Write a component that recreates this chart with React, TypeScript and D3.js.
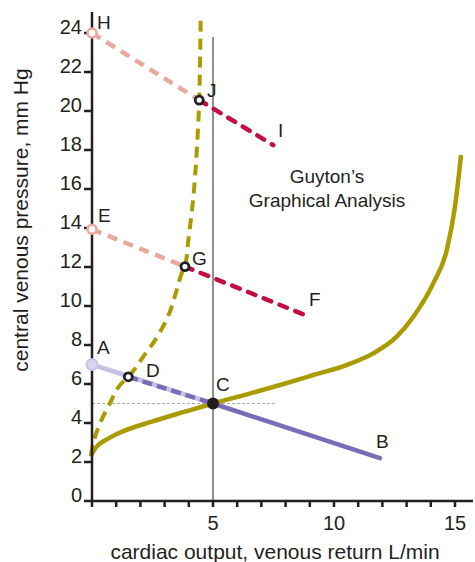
import React from "react";
import * as d3 from "d3";

const yTicks = [0, 2, 4, 6, 8, 10, 12, 14, 16, 18, 20, 22, 24];
const xTicks = d3.range(0, 16);
const xLabels = [5, 10, 15];

// Cardiac output curve (solid olive)
const cardiacOutput: [number, number][] = [
  [-0.05, 2.3], [0.08, 2.6], [0.26, 2.87], [0.6, 3.15], [1.09, 3.47], [2.47, 4.07],
  [3.84, 4.58], [5, 5], [6.4, 5.47], [7.77, 5.95], [9.15, 6.46], [10.52, 6.97],
  [11.62, 7.57], [12.59, 8.43], [13.28, 9.45], [14.1, 11.16],
  [14.66, 12.87], [15.0, 15.1], [15.25, 17.74],
];
// Steep (dashed olive) cardiac curve
const cardiacSteep: [number, number][] = [
  [-0.05, 2.3], [0.05, 2.96], [0.33, 3.98], [0.74, 5.01], [1.16, 5.95], [1.5, 6.37],
  [2.12, 7.4], [2.74, 8.51], [3.22, 9.71], [3.5, 10.82], [3.71, 11.68], [3.84, 12.02],
  [3.98, 13.38], [4.19, 15.6], [4.33, 18], [4.43, 20.56], [4.46, 22.27], [4.49, 24.63],
];

// Venous return points
const pA: [number, number] = [0, 7];
const pD: [number, number] = [1.5, 6.37];
const pC: [number, number] = [5, 5];
const pB: [number, number] = [11.9, 2.2];
const pE: [number, number] = [0, 13.93];
const pG: [number, number] = [3.84, 12.02];
const pF: [number, number] = [8.98, 9.45];
const pH: [number, number] = [0, 24];
const pJ: [number, number] = [4.43, 20.56];
const pI: [number, number] = [7.49, 18.25];

const OLIVE = "#a89c00";
const LAV = "#c6c0e2";
const PURPLE = "#7a6cb8";
const PINK = "#e8a8a0";
const CRIMSON = "#c20f40";
const AX = "#231f20";
const FONT = "'Liberation Sans', Arial, Helvetica, sans-serif";

export default function App() {
  const x = d3.scaleLinear().domain([0, 15]).range([92, 455]);
  const y = d3.scaleLinear().domain([0, 24]).range([501, 33]);
  const lineX = d3
    .line<[number, number]>()
    .x((d) => x(d[0]))
    .y((d) => y(d[1]))
    .curve(d3.curveMonotoneX);
  const lineY = d3
    .line<[number, number]>()
    .x((d) => x(d[0]))
    .y((d) => y(d[1]))
    .curve(d3.curveMonotoneY);
  const seg = (a: [number, number], b: [number, number]) =>
    d3.line<[number, number]>().x((d) => x(d[0])).y((d) => y(d[1]))([a, b]) as string;

  const label = (t: string, px: number, py: number) => (
    <text x={px} y={py} fontSize={19} fill={AX} fontFamily={FONT}>
      {t}
    </text>
  );

  return (
    <svg
      width={475}
      height={562}
      style={{ position: "absolute", left: 0, top: 0, background: "#fff" }}
    >
      {/* reference lines */}
      <line x1={x(5)} x2={x(5)} y1={37} y2={y(0)} stroke={AX} strokeWidth={1} />
      <line x1={x(0)} x2={x(7.6)} y1={y(5)} y2={y(5)} stroke="#999" strokeWidth={0.8} strokeDasharray="3 2" />

      {/* curves */}
      <path d={lineX(cardiacOutput) as string} fill="none" stroke={OLIVE} strokeWidth={4.5} />
      <path d={lineY(cardiacSteep) as string} fill="none" stroke={OLIVE} strokeWidth={4} strokeDasharray="11 7" />

      {/* venous return A-B */}
      <path d={seg(pA, pC)} stroke={LAV} strokeWidth={4.5} fill="none" />
      <path d={seg(pD, pC)} stroke={PURPLE} strokeWidth={4.5} fill="none" strokeDasharray="10 5" />
      <path d={seg(pC, pB)} stroke={PURPLE} strokeWidth={4.5} fill="none" strokeLinecap="round" />

      {/* E-F */}
      <path d={seg(pE, pG)} stroke={PINK} strokeWidth={4.5} fill="none" strokeDasharray="10 7" />
      <path d={seg(pG, pF)} stroke={CRIMSON} strokeWidth={4.5} fill="none" strokeDasharray="8 9" strokeLinecap="round" />

      {/* H-I */}
      <path d={seg(pH, pJ)} stroke={PINK} strokeWidth={4.5} fill="none" strokeDasharray="10 7" />
      <path d={seg(pJ, pI)} stroke={CRIMSON} strokeWidth={4.5} fill="none" strokeDasharray="8 9" strokeLinecap="round" />

      {/* axes */}
      <line x1={x(0)} x2={x(0)} y1={12} y2={y(0)} stroke={AX} strokeWidth={2.5} />
      <line x1={x(0) - 1} x2={473} y1={y(0)} y2={y(0)} stroke={AX} strokeWidth={2.5} />
      {yTicks.map((t) => (
        <g key={"y" + t}>
          <line x1={x(0) - 8} x2={x(0)} y1={y(t)} y2={y(t)} stroke={AX} strokeWidth={2.5} />
          <text x={82} y={y(t) + 1} textAnchor="end" fontSize={20} fill={AX} fontFamily={FONT}>
            {t}
          </text>
        </g>
      ))}
      {xTicks.map((t) => (
        <line key={"x" + t} x1={x(t)} x2={x(t)} y1={y(0)} y2={y(0) + 6} stroke={AX} strokeWidth={2.5} />
      ))}
      {xLabels.map((t) => (
        <text key={"xl" + t} x={x(t)} y={530} textAnchor="middle" fontSize={20} fill={AX} fontFamily={FONT}>
          {t}
        </text>
      ))}

      {/* points */}
      <circle cx={x(pA[0])} cy={y(pA[1])} r={5.5} fill="#d9d4ee" stroke={LAV} strokeWidth={2} />
      <circle cx={x(pE[0])} cy={y(pE[1])} r={4.5} fill="#fff" stroke={PINK} strokeWidth={2.5} />
      <circle cx={x(pH[0])} cy={y(pH[1])} r={4.5} fill="#fff" stroke={PINK} strokeWidth={2.5} />
      {[pD, pG, pJ].map((p, i) => (
        <circle key={"o" + i} cx={x(p[0])} cy={y(p[1])} r={4} fill="#fff" stroke={AX} strokeWidth={2.8} />
      ))}
      <circle cx={x(pC[0])} cy={y(pC[1])} r={6} fill={AX} />

      {/* point labels */}
      {label("H", 97, 29)}
      {label("J", 207, 97)}
      {label("I", 278, 137)}
      {label("E", 98, 222)}
      {label("G", 192, 265)}
      {label("F", 309, 306)}
      {label("A", 97, 354)}
      {label("D", 146, 377)}
      {label("C", 216, 391)}
      {label("B", 376, 448)}

      {/* title */}
      <text x={327} y={183} textAnchor="middle" fontSize={19} fill={AX} fontFamily={FONT}>
        Guyton’s
      </text>
      <text x={327} y={207} textAnchor="middle" fontSize={19} fill={AX} fontFamily={FONT}>
        Graphical Analysis
      </text>

      {/* axis titles */}
      <text x={275} y={559} textAnchor="middle" fontSize={21} fill={AX} fontFamily={FONT}>
        cardiac output, venous return L/min
      </text>
      <text
        transform="translate(28,220) rotate(-90)"
        textAnchor="middle"
        fontSize={21}
        fill={AX}
        fontFamily={FONT}
      >
        central venous pressure, mm Hg
      </text>
    </svg>
  );
}
